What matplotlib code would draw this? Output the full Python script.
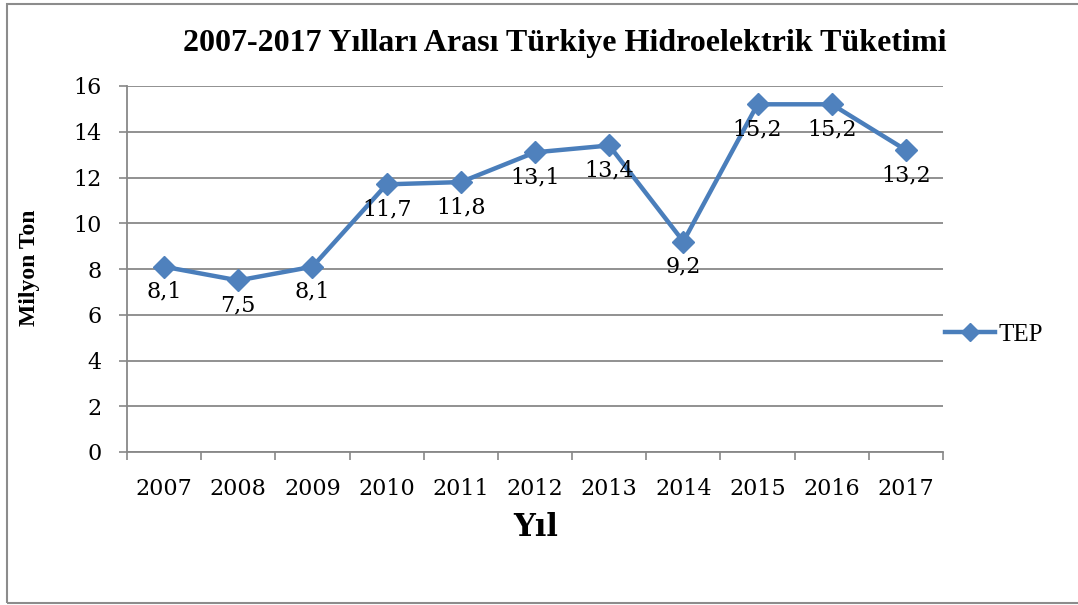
import numpy as np
import matplotlib.pyplot as plt
from matplotlib.patches import Rectangle

years = ['2007', '2008', '2009', '2010', '2011', '2012',
         '2013', '2014', '2015', '2016', '2017']
tep = [8.1, 7.5, 8.1, 11.7, 11.8, 13.1, 13.4, 9.2, 15.2, 15.2, 13.2]
labels = ['8,1', '7,5', '8,1', '11,7', '11,8', '13,1',
          '13,4', '9,2', '15,2', '15,2', '13,2']

blue = '#4A7EBB'
grey = '#888888'
serif = ['Liberation Serif', 'DejaVu Serif']
tickfont = ['DejaVu Serif']

fig = plt.figure(figsize=(10.78, 6.05), dpi=100)
fig.patches.append(Rectangle((7/1078, 2/605), 1.1, 599/605, transform=fig.transFigure,
                             fill=False, edgecolor='#8c8c8c', linewidth=1.5))

ax = fig.add_axes([127/1078, 153/605, 816/1078, 366/605])
x = np.arange(len(years))
ax.plot(x, tep, color=blue, linewidth=3.2, marker='D', markersize=11,
        markerfacecolor='#4F81BD', markeredgecolor='#4F81BD', label='TEP')

for xi, yi, lab in zip(x, tep, labels):
    ax.annotate(lab, (xi, yi), xytext=(0, -10), textcoords='offset points',
                ha='center', va='top', fontsize=16, family=tickfont)

ax.set_xlim(-0.5, len(years) - 0.5)
ax.set_ylim(0, 16)
ax.set_yticks(np.arange(0, 17, 2))
ax.set_xticks(x)
ax.set_xticklabels(years)
ax.set_xticks(np.arange(-0.5, len(years), 1), minor=True)
ax.tick_params(axis='x', which='major', length=0, pad=19)
ax.tick_params(axis='x', which='minor', length=6, width=1.2, color=grey, direction='out')
ax.tick_params(axis='y', length=6, width=1.2, color=grey, pad=12)
for t in ax.get_xticklabels() + ax.get_yticklabels():
    t.set_family(tickfont)
    t.set_fontsize(16)

ax.grid(axis='y', color=grey, linewidth=1.3)
ax.set_axisbelow(True)
for s in ['top', 'right']:
    ax.spines[s].set_visible(False)
for s in ['left', 'bottom']:
    ax.spines[s].set_color(grey)
    ax.spines[s].set_linewidth(1.3)

fig.text(565/1078, 1 - 43/605, '2007-2017 Yılları Arası Türkiye Hidroelektrik Tüketimi',
         ha='center', va='center', fontsize=23, fontweight='bold', family=serif)
fig.text(30/1078, 1 - 268/605, 'Milyon Ton', rotation=90, ha='center', va='center',
         fontsize=17, fontweight='bold', family=serif)
fig.text(536/1078, 1 - 527/605, 'Yıl', ha='center', va='center',
         fontsize=22, fontweight='bold', family=tickfont)

ax.legend(loc='center left', bbox_to_anchor=(0.99, (452 - 335) / 366),
          frameon=False, prop={'family': serif, 'size': 18},
          handlelength=2.0, handletextpad=0.15, markerscale=0.85, borderaxespad=0)

fig.savefig('out.png', dpi=100)
